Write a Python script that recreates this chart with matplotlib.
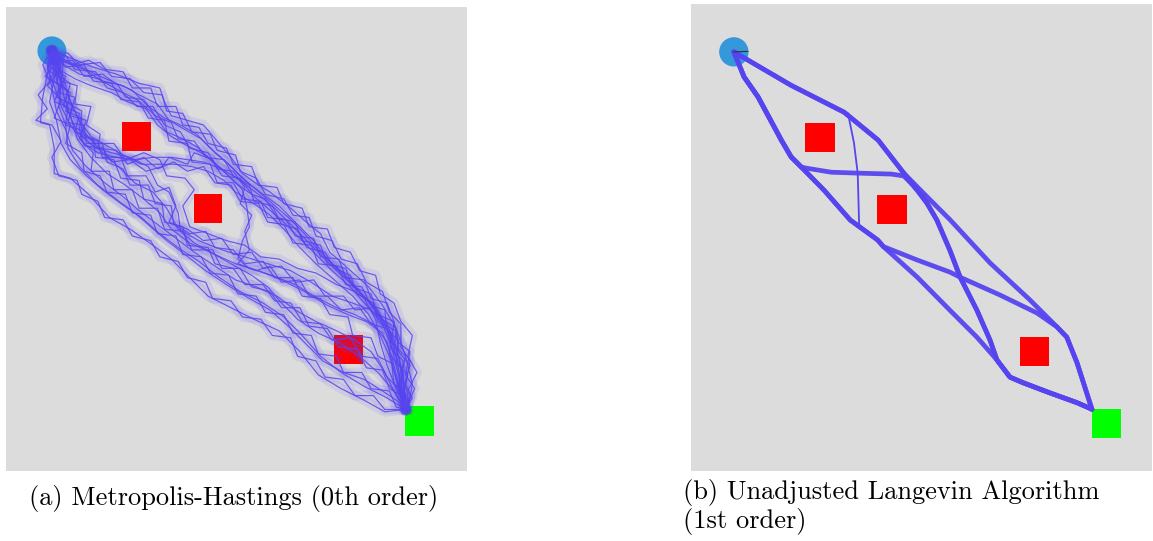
"""
Sampled trajectories from the start disc to the goal square,
comparing a zeroth-order and a first-order sampler.
"""

import matplotlib
matplotlib.use("Agg")
import matplotlib.pyplot as plt
from matplotlib.patches import Circle, Rectangle

# Environment (shared by both panels)
START = (1.0, 1.0)
START_RADIUS = 0.3
OBSTACLES = [(2.85, 2.85), (4.4, 4.4), (7.45, 7.45)]
GOAL = (9.0, 9.0)
BOX_SIDE = 0.63

# Metropolis-Hastings chains (x, y), y grows downwards
MH_PATHS = [
    [(1.0, 1.0), (1.4, 1.15), (1.9, 1.35), (2.4, 1.5), (2.9, 1.7), (3.35, 1.8), (3.45, 2.1), (3.6, 2.4),
     (3.95, 2.5), (4.3, 2.6), (4.6, 2.95), (4.9, 3.3), (5.15, 3.65), (5.5, 3.9), (5.75, 4.05), (6.2, 4.4),
     (6.6, 4.75), (6.85, 4.95), (7.05, 5.35), (7.45, 5.7), (7.9, 6.1), (8.2, 6.5), (8.5, 7.0), (8.7, 7.6),
     (8.85, 8.2), (8.75, 8.75)],
    [(1.0, 1.0), (1.3, 1.25), (1.7, 1.4), (2.1, 1.65), (2.55, 1.75), (2.9, 1.95), (3.3, 2.15), (3.55, 2.5),
     (3.9, 2.7), (4.25, 2.9), (4.55, 3.2), (4.9, 3.5), (5.2, 3.8), (5.6, 4.1), (5.95, 4.35), (6.3, 4.7),
     (6.7, 5.1), (7.0, 5.5), (7.4, 5.85), (7.75, 6.25), (8.1, 6.6), (8.35, 7.1), (8.55, 7.6), (8.65, 8.1),
     (8.7, 8.7)],
    [(1.0, 1.0), (1.15, 1.4), (1.5, 1.6), (1.85, 1.75), (2.3, 1.9), (2.65, 2.1), (3.05, 2.25), (3.3, 2.6),
     (3.6, 2.85), (3.95, 3.05), (4.35, 3.25), (4.7, 3.55), (5.0, 3.85), (5.35, 4.1), (5.7, 4.4), (6.05, 4.7),
     (6.4, 5.05), (6.75, 5.4), (7.1, 5.75), (7.5, 6.1), (7.85, 6.5), (8.2, 6.9), (8.4, 7.4), (8.55, 8.0),
     (8.65, 8.7)],
    [(1.0, 1.0), (1.25, 1.3), (1.6, 1.5), (2.0, 1.6), (2.45, 1.85), (2.85, 2.05), (3.2, 2.35), (3.5, 2.75),
     (3.85, 2.9), (4.2, 3.1), (4.5, 3.4), (4.85, 3.7), (5.15, 4.0), (5.25, 4.4), (5.3, 4.8), (5.15, 5.1),
     (5.05, 5.5), (5.3, 5.7), (5.8, 5.85), (6.3, 6.05), (6.8, 6.35), (7.2, 6.55), (7.6, 6.7), (8.0, 6.9),
     (8.3, 7.3), (8.45, 7.9), (8.6, 8.5), (8.7, 8.75)],
    [(1.0, 1.0), (1.2, 1.2), (1.55, 1.3), (1.95, 1.5), (2.4, 1.7), (2.75, 1.85), (3.1, 2.2), (3.45, 2.45),
     (3.8, 2.6), (4.15, 2.8), (4.45, 3.1), (4.8, 3.4), (5.1, 3.7), (5.45, 4.0), (5.8, 4.3), (6.15, 4.6),
     (6.5, 4.95), (6.8, 5.3), (7.15, 5.65), (7.5, 6.0), (7.8, 6.35), (8.05, 6.8), (8.15, 7.3), (8.3, 7.8),
     (8.5, 8.3), (8.7, 8.7)],
    [(1.0, 1.0), (1.05, 1.4), (1.15, 1.8), (1.2, 2.2), (1.4, 2.6), (1.7, 3.0), (2.0, 3.2), (2.4, 3.3),
     (2.8, 3.35), (3.2, 3.3), (3.6, 3.3), (3.95, 3.35), (4.3, 3.4), (4.7, 3.55), (5.1, 3.8), (5.5, 4.1),
     (5.85, 4.4), (6.2, 4.75), (6.55, 5.1), (6.9, 5.45), (7.25, 5.8), (7.65, 6.15), (8.0, 6.55), (8.3, 7.0),
     (8.5, 7.6), (8.6, 8.2), (8.7, 8.7)],
    [(1.0, 1.0), (1.15, 1.3), (1.3, 1.75), (1.4, 2.1), (1.6, 2.5), (1.85, 2.85), (2.2, 3.05), (2.55, 3.25),
     (2.95, 3.45), (3.3, 3.45), (3.7, 3.45), (4.05, 3.5), (4.4, 3.6), (4.75, 3.8), (5.0, 4.05), (5.4, 4.3),
     (5.75, 4.55), (6.05, 4.85), (6.4, 5.25), (6.75, 5.6), (7.15, 5.95), (7.55, 6.3), (7.9, 6.7), (8.15, 7.15),
     (8.35, 7.6), (8.5, 8.1), (8.7, 8.7)],
    [(1.0, 1.0), (0.95, 1.5), (1.1, 1.9), (1.35, 2.3), (1.55, 2.75), (1.95, 3.1), (2.3, 3.2), (2.7, 3.3),
     (3.1, 3.5), (3.3, 3.9), (3.55, 4.05), (3.75, 4.5), (3.8, 4.9), (4.1, 5.15), (4.55, 5.4), (5.0, 5.6),
     (5.5, 5.75), (6.0, 5.95), (6.5, 6.2), (7.0, 6.5), (7.45, 6.7), (7.85, 6.85), (8.2, 7.1), (8.4, 7.6),
     (8.55, 8.2), (8.7, 8.7)],
    [(1.0, 1.0), (0.9, 1.5), (0.8, 2.0), (0.75, 2.55), (0.95, 2.6), (1.05, 3.1), (1.05, 3.65), (1.4, 3.75),
     (1.8, 4.1), (2.25, 4.6), (2.7, 4.85), (3.2, 5.2), (3.6, 5.5), (3.95, 5.85), (4.4, 6.3), (4.9, 6.55),
     (5.4, 6.8), (5.95, 7.05), (6.4, 7.5), (6.8, 8.0), (7.3, 8.3), (7.8, 8.55), (8.25, 8.8), (8.7, 8.75)],
    [(1.0, 1.0), (1.05, 1.6), (0.95, 2.1), (1.1, 2.5), (1.2, 3.0), (1.4, 3.35), (1.75, 3.7), (2.1, 4.0),
     (2.5, 4.3), (2.95, 4.6), (3.35, 4.95), (3.75, 5.25), (4.2, 5.55), (4.65, 5.9), (5.1, 6.2), (5.6, 6.45),
     (6.05, 6.75), (6.45, 7.15), (6.85, 7.6), (7.3, 7.95), (7.8, 8.25), (8.3, 8.5), (8.7, 8.75)],
    [(1.0, 1.0), (1.2, 1.5), (1.25, 1.95), (1.4, 2.4), (1.55, 2.9), (1.85, 3.3), (2.2, 3.65), (2.6, 3.9),
     (3.0, 4.2), (3.35, 4.5), (3.6, 4.85), (4.0, 5.15), (4.45, 5.35), (4.9, 5.6), (5.35, 5.85), (5.7, 6.1),
     (6.0, 6.45), (6.35, 6.8), (6.8, 7.1), (7.25, 7.3), (7.7, 7.6), (8.1, 7.95), (8.45, 8.35), (8.7, 8.75)],
    [(1.0, 1.0), (1.1, 1.45), (1.3, 1.85), (1.5, 2.3), (1.7, 2.75), (2.05, 3.15), (2.45, 3.5), (2.8, 3.85),
     (3.2, 4.05), (3.5, 4.4), (3.75, 4.85), (4.2, 5.1), (4.7, 5.3), (5.2, 5.45), (5.7, 5.6), (6.2, 5.75),
     (6.65, 6.0), (7.1, 6.3), (7.55, 6.45), (7.95, 6.6), (8.3, 6.9), (8.5, 7.4), (8.65, 8.0), (8.7, 8.7)],
    [(1.0, 1.0), (0.9, 1.3), (1.0, 1.8), (1.1, 2.3), (1.3, 2.7), (1.45, 3.15), (1.75, 3.5), (2.15, 3.85),
     (2.55, 4.15), (2.9, 4.45), (3.3, 4.75), (3.7, 5.05), (4.1, 5.35), (4.55, 5.65), (5.0, 5.95), (5.45, 6.1),
     (5.9, 6.3), (6.3, 6.6), (6.75, 6.85), (7.2, 7.05), (7.6, 7.25), (7.95, 7.5), (8.25, 7.95), (8.5, 8.45),
     (8.7, 8.75)],
    [(1.0, 1.0), (1.2, 1.7), (1.15, 2.2), (1.3, 2.6), (1.35, 3.1), (1.6, 3.5), (2.0, 3.9), (2.4, 4.2),
     (2.8, 4.5), (3.15, 4.8), (3.5, 5.1), (3.9, 5.4), (4.35, 5.75), (4.8, 6.05), (5.3, 6.35), (5.75, 6.6),
     (6.15, 6.95), (6.5, 7.3), (6.9, 7.7), (7.35, 7.95), (7.8, 8.1), (8.2, 8.35), (8.5, 8.55), (8.7, 8.75)],
    [(1.0, 1.0), (1.35, 1.05), (1.6, 1.3), (2.05, 1.25), (2.3, 1.55), (2.7, 1.6), (3.0, 1.9), (3.4, 1.95),
     (3.5, 2.3), (3.85, 2.35), (4.05, 2.75), (4.45, 2.8), (4.6, 3.15), (5.0, 3.25), (5.1, 3.6), (5.45, 3.75),
     (5.65, 4.1), (6.05, 4.2), (6.25, 4.55), (6.6, 4.6), (6.75, 5.0), (7.1, 5.1), (7.3, 5.5), (7.65, 5.6),
     (7.85, 6.0), (8.2, 6.2), (8.35, 6.65), (8.6, 6.9), (8.6, 7.4), (8.8, 7.7), (8.7, 8.2), (8.85, 8.5),
     (8.7, 8.75)],
    [(1.0, 1.0), (1.1, 1.25), (1.45, 1.2), (1.7, 1.55), (2.1, 1.5), (2.45, 1.75), (2.6, 2.0), (3.0, 2.05),
     (3.25, 2.4), (3.6, 2.55), (3.75, 2.9), (4.1, 2.95), (4.35, 3.3), (4.75, 3.35), (4.95, 3.7), (5.3, 3.9),
     (5.4, 4.25), (5.8, 4.35), (6.0, 4.75), (6.35, 4.85), (6.55, 5.25), (6.95, 5.35), (7.15, 5.7), (7.5, 5.85),
     (7.65, 6.25), (8.0, 6.45), (8.1, 6.85), (8.4, 7.1), (8.35, 7.55), (8.6, 7.85), (8.55, 8.3), (8.75, 8.75)],
    [(1.0, 1.0), (1.05, 1.3), (0.85, 1.55), (1.2, 1.75), (1.05, 2.1), (1.35, 2.2), (1.3, 2.6), (1.6, 2.7),
     (1.7, 3.05), (2.1, 3.1), (2.3, 3.4), (2.7, 3.35), (3.05, 3.6), (3.4, 3.5), (3.55, 3.3), (3.95, 3.45),
     (4.1, 3.2), (4.5, 3.35), (4.7, 3.7), (5.1, 3.75), (5.35, 4.1), (5.65, 4.2), (5.9, 4.6), (6.3, 4.7),
     (6.45, 5.1), (6.85, 5.2), (7.0, 5.6), (7.4, 5.7), (7.55, 6.1), (7.95, 6.25), (8.1, 6.7), (8.45, 6.85),
     (8.4, 7.3), (8.7, 7.6), (8.6, 8.1), (8.8, 8.45), (8.7, 8.75)],
    [(1.0, 1.0), (0.8, 1.3), (0.95, 1.65), (0.7, 1.95), (0.9, 2.25), (0.65, 2.5), (1.0, 2.6), (1.2, 2.95),
     (1.0, 3.3), (1.15, 3.7), (1.55, 3.8), (1.65, 4.1), (2.0, 4.25), (2.15, 4.6), (2.55, 4.65), (2.75, 5.0),
     (3.15, 5.1), (3.35, 5.45), (3.75, 5.55), (3.95, 5.9), (4.35, 6.0), (4.5, 6.35), (4.9, 6.4), (5.15, 6.75),
     (5.55, 6.8), (5.8, 7.15), (6.2, 7.2), (6.35, 7.6), (6.75, 7.7), (6.95, 8.05), (7.35, 8.1), (7.6, 8.45),
     (8.0, 8.45), (8.25, 8.75), (8.7, 8.75)],
    [(1.0, 1.0), (1.2, 1.35), (0.95, 1.6), (1.35, 1.85), (1.25, 2.2), (1.6, 2.35), (1.5, 2.75), (1.9, 2.9),
     (1.95, 3.3), (2.35, 3.35), (2.5, 3.75), (2.9, 3.8), (3.0, 4.2), (3.4, 4.3), (3.45, 4.7), (3.85, 4.8),
     (3.95, 5.2), (4.4, 5.25), (4.55, 5.6), (4.95, 5.7), (5.2, 6.05), (5.6, 6.05), (5.85, 6.4), (6.2, 6.45),
     (6.45, 6.85), (6.85, 6.9), (7.1, 7.25), (7.5, 7.2), (7.75, 7.6), (8.1, 7.65), (8.3, 8.05), (8.55, 8.3),
     (8.7, 8.75)],
    [(1.0, 1.0), (1.3, 1.1), (1.5, 1.4), (1.95, 1.45), (2.2, 1.8), (2.55, 1.9), (2.85, 2.2), (3.2, 2.2),
     (3.45, 2.6), (3.8, 2.75), (4.0, 3.1), (4.4, 3.2), (4.6, 3.55), (4.95, 3.6), (5.2, 3.95), (5.1, 4.3),
     (5.35, 4.55), (5.2, 4.9), (5.3, 5.3), (5.05, 5.6), (5.45, 5.75), (5.75, 5.65), (6.0, 6.0), (6.4, 5.95),
     (6.6, 6.3), (7.0, 6.3), (7.3, 6.6), (7.7, 6.55), (7.95, 6.9), (8.3, 7.0), (8.4, 7.45), (8.65, 7.7),
     (8.6, 8.2), (8.7, 8.75)],
    [(1.0, 1.0), (1.25, 1.25), (1.2, 1.65), (1.55, 1.75), (1.5, 2.15), (1.85, 2.2), (1.75, 2.6), (2.05, 2.8),
     (2.0, 3.1), (2.4, 3.15), (2.65, 3.45), (3.0, 3.3), (3.3, 3.55), (3.65, 3.4), (3.95, 3.6), (4.3, 3.5),
     (4.55, 3.85), (4.9, 3.9), (5.1, 4.25), (5.5, 4.3), (5.7, 4.7), (6.05, 4.75), (6.25, 5.15), (6.65, 5.2),
     (6.8, 5.6), (7.2, 5.65), (7.4, 6.05), (7.75, 6.1), (7.95, 6.5), (8.25, 6.6), (8.3, 7.05), (8.55, 7.25),
     (8.5, 7.75), (8.75, 8.0), (8.65, 8.45), (8.7, 8.75)],
    [(1.0, 1.0), (0.9, 1.4), (1.2, 1.6), (1.1, 2.0), (1.45, 2.15), (1.35, 2.55), (1.7, 2.6), (1.75, 3.0),
     (2.1, 3.0), (2.2, 3.4), (2.55, 3.55), (2.7, 3.9), (3.1, 3.9), (3.25, 4.3), (3.6, 4.35), (3.65, 4.75),
     (4.0, 4.95), (4.35, 4.9), (4.55, 5.25), (4.95, 5.3), (5.2, 5.6), (5.6, 5.55), (5.85, 5.9), (6.25, 5.9),
     (6.45, 6.3), (6.85, 6.35), (7.05, 6.7), (7.45, 6.75), (7.55, 7.15), (7.95, 7.2), (8.1, 7.6), (8.4, 7.75),
     (8.45, 8.2), (8.7, 8.4), (8.7, 8.75)],
    [(1.0, 1.0), (1.15, 1.45), (0.9, 1.75), (1.2, 2.05), (1.05, 2.45), (1.4, 2.6), (1.3, 3.0), (1.65, 3.2),
     (1.7, 3.6), (2.05, 3.7), (2.2, 4.05), (2.6, 4.1), (2.75, 4.5), (3.15, 4.55), (3.3, 4.95), (3.7, 5.0),
     (3.85, 5.4), (4.25, 5.45), (4.45, 5.8), (4.85, 5.85), (5.05, 6.25), (5.45, 6.3), (5.65, 6.65), (6.05, 6.7),
     (6.25, 7.1), (6.65, 7.15), (6.8, 7.55), (7.2, 7.6), (7.35, 7.95), (7.75, 7.95), (7.95, 8.3), (8.35, 8.35),
     (8.5, 8.7), (8.7, 8.75)],
    [(1.0, 1.0), (1.3, 1.35), (1.7, 1.3), (1.9, 1.65), (2.3, 1.7), (2.5, 2.05), (2.9, 2.1), (3.1, 2.45),
     (3.45, 2.5), (3.55, 2.95), (3.95, 3.0), (4.05, 3.4), (4.45, 3.45), (4.6, 3.85), (4.95, 3.85), (5.15, 4.2),
     (5.55, 4.25), (5.7, 4.6), (6.1, 4.65), (6.3, 5.0), (6.7, 5.05), (6.85, 5.45), (7.25, 5.5), (7.4, 5.9),
     (7.8, 5.95), (7.95, 6.35), (8.3, 6.45), (8.45, 6.85), (8.55, 7.3), (8.8, 7.5), (8.7, 8.0), (8.9, 8.3),
     (8.7, 8.75)],
    [(1.0, 1.0), (1.1, 1.5), (1.4, 1.7), (1.3, 2.1), (1.65, 2.3), (1.6, 2.7), (1.95, 3.0), (2.35, 3.0),
     (2.6, 3.35), (3.0, 3.2), (3.35, 3.35), (3.5, 3.7), (3.9, 3.75), (4.1, 4.0), (3.85, 4.35), (4.0, 4.8),
     (4.4, 4.95), (4.8, 5.1), (5.2, 5.2), (5.55, 5.45), (5.95, 5.5), (6.35, 5.7), (6.75, 5.8), (7.2, 6.05),
     (7.6, 6.2), (7.95, 6.45), (8.2, 6.8), (8.5, 7.0), (8.45, 7.5), (8.65, 7.95), (8.6, 8.4), (8.7, 8.75)],
    [(1.0, 1.0), (0.95, 1.35), (1.3, 1.55), (1.15, 1.9), (1.5, 2.0), (1.4, 2.4), (1.75, 2.5), (1.6, 2.9),
     (1.9, 3.2), (1.85, 3.6), (2.25, 3.6), (2.35, 4.0), (2.75, 4.0), (2.9, 4.4), (3.3, 4.4), (3.45, 4.85),
     (3.85, 4.9), (4.05, 5.3), (4.5, 5.3), (4.7, 5.7), (5.1, 5.7), (5.35, 6.1), (5.75, 6.2), (6.0, 6.55),
     (6.4, 6.55), (6.6, 6.95), (7.0, 7.0), (7.25, 7.4), (7.65, 7.45), (7.85, 7.85), (8.2, 7.9), (8.35, 8.3),
     (8.7, 8.5), (8.7, 8.75)],
    [(1.0, 1.0), (1.45, 1.3), (1.8, 1.2), (2.15, 1.4), (2.55, 1.45), (2.75, 1.8), (3.15, 1.8), (3.3, 2.2),
     (3.7, 2.2), (3.85, 2.6), (4.2, 2.65), (4.4, 3.0), (4.8, 3.1), (4.95, 3.45), (5.35, 3.5), (5.5, 3.9),
     (5.9, 3.95), (6.05, 4.3), (6.45, 4.4), (6.6, 4.8), (7.0, 4.85), (7.15, 5.25), (7.5, 5.35), (7.7, 5.75),
     (8.05, 5.85), (8.15, 6.25), (8.45, 6.45), (8.6, 6.85), (8.85, 7.15), (8.75, 7.6), (8.95, 7.95),
     (8.75, 8.35), (8.75, 8.75)],
    [(1.0, 1.0), (1.2, 1.3), (1.1, 1.7), (1.4, 1.9), (1.3, 2.3), (1.65, 2.45), (1.65, 2.85), (2.0, 2.95),
     (2.1, 3.3), (2.5, 3.3), (2.65, 3.7), (3.05, 3.7), (3.25, 4.05), (3.55, 3.95), (3.7, 4.35), (3.55, 4.7),
     (3.95, 4.85), (4.3, 5.1), (4.7, 5.05), (4.95, 5.4), (5.35, 5.35), (5.6, 5.7), (6.0, 5.65), (6.3, 6.0),
     (6.7, 5.95), (6.95, 6.3), (7.35, 6.3), (7.6, 6.6), (8.0, 6.55), (8.2, 6.9), (8.5, 7.05), (8.55, 7.5),
     (8.8, 7.8), (8.65, 8.3), (8.7, 8.75)],
]

# Unadjusted Langevin bundles (x, y)
ULA_PATHS = [
    [(1.0, 1.0), (2.23, 1.72), (3.37, 2.30), (4.10, 2.90), (4.65, 3.61), (5.15, 4.12), (5.64, 4.61),
     (6.50, 5.54), (7.36, 6.34), (7.94, 6.92), (8.15, 7.14), (8.37, 7.69), (8.69, 8.69)],
    [(1.0, 1.0), (2.23, 1.72), (3.37, 2.30), (4.10, 2.90), (4.65, 3.61), (5.15, 4.26), (5.36, 4.62),
     (5.64, 5.27), (5.86, 5.85), (6.22, 6.56), (6.50, 7.20), (6.65, 7.63), (6.93, 8.00), (7.21, 8.12),
     (7.79, 8.34), (8.37, 8.55), (8.69, 8.69)],
    [(1.0, 1.0), (1.22, 1.54), (1.52, 1.97), (2.02, 2.90), (2.23, 3.26), (2.45, 3.48), (2.60, 3.51),
     (3.09, 3.59), (3.67, 3.61), (4.38, 3.63), (4.65, 3.67), (4.95, 3.98), (5.15, 4.26), (5.36, 4.62),
     (5.64, 5.27), (5.86, 5.85), (6.22, 6.56), (6.50, 7.20), (6.65, 7.63), (6.93, 8.00), (7.21, 8.12),
     (7.79, 8.34), (8.37, 8.55), (8.69, 8.69)],
    [(1.0, 1.0), (1.22, 1.54), (1.52, 1.97), (2.02, 2.90), (2.23, 3.26), (2.45, 3.48), (2.94, 3.98),
     (3.50, 4.62), (4.09, 5.05), (4.21, 5.19), (4.94, 5.48), (5.64, 5.74), (5.86, 5.85), (6.71, 6.23),
     (7.51, 6.62), (7.94, 6.92), (8.15, 7.14), (8.37, 7.69), (8.69, 8.69)],
    [(1.0, 1.0), (1.22, 1.54), (1.52, 1.97), (2.02, 2.90), (2.23, 3.26), (2.45, 3.48), (2.94, 3.98),
     (3.50, 4.62), (4.09, 5.05), (4.21, 5.19), (4.94, 5.85), (5.64, 6.56), (6.22, 7.14), (6.65, 7.63),
     (6.93, 8.00), (7.21, 8.12), (7.79, 8.34), (8.37, 8.55), (8.69, 8.69)],
]
# single chain that cuts straight down beside the first obstacle
ULA_THIN_PATH = [(3.37, 2.30), (3.45, 2.32), (3.58, 2.96), (3.66, 3.61), (3.69, 4.69)]
# chain that barely left the start
ULA_STUCK_PATH = [(1.0, 1.0), (1.30, 0.99)]

CAPTION_A = "(a) Metropolis-Hastings (0th order)"
CAPTION_B = ["(b) Unadjusted Langevin Algorithm", "(1st order)"]

BG_COLOR = "#dcdcdc"
PATH_COLOR = "#5644f0"


def draw_environment(ax, xlim, ylim):
    """Grey arena with the start disc, the obstacles and the goal."""
    ax.set_facecolor(BG_COLOR)
    ax.set_xlim(*xlim)
    ax.set_ylim(*ylim)
    ax.set_xticks([])
    ax.set_yticks([])
    for spine in ax.spines.values():
        spine.set_visible(False)

    ax.add_patch(Circle(START, START_RADIUS, color="#3498db", zorder=1))
    half = BOX_SIDE / 2
    for cx, cy in OBSTACLES:
        ax.add_patch(Rectangle((cx - half, cy - half), BOX_SIDE, BOX_SIDE,
                               facecolor="#ff0000", edgecolor="none", zorder=1))
    ax.add_patch(Rectangle((GOAL[0] - half, GOAL[1] - half), BOX_SIDE, BOX_SIDE,
                           facecolor="#00ff00", edgecolor="none", zorder=1))


def plot_xy(ax, path, **kwargs):
    xs = [p[0] for p in path]
    ys = [p[1] for p in path]
    ax.plot(xs, ys, **kwargs)


fig = plt.figure(figsize=(11.53, 5.41), dpi=100)

# Left panel: noisy random-walk chains
ax_mh = fig.add_axes([6 / 1153, 70 / 541, 461 / 1153, 464 / 541])
draw_environment(ax_mh, (0.0, 10.04), (10.08, 0.05))
for path in MH_PATHS:
    plot_xy(ax_mh, path, color=PATH_COLOR, lw=7.0, alpha=0.1,
            solid_joinstyle="round", zorder=2)
for path in MH_PATHS:
    plot_xy(ax_mh, path, color=PATH_COLOR, lw=0.85, alpha=0.85, zorder=3)

# Right panel: gradient-driven chains collapse into a few bundles
ax_ula = fig.add_axes([691 / 1153, 70 / 541, 461 / 1153, 467 / 541])
draw_environment(ax_ula, (0.08, 9.98), (10.02, -0.03))
for path in ULA_PATHS:
    plot_xy(ax_ula, path, color=PATH_COLOR, lw=3.4, alpha=0.95,
            solid_joinstyle="round", solid_capstyle="round", zorder=2)
plot_xy(ax_ula, ULA_THIN_PATH, color=PATH_COLOR, lw=1.3, zorder=2)
plot_xy(ax_ula, ULA_STUCK_PATH, color="#333333", lw=0.8, zorder=3)

# Captions set in Computer Modern
cap_font = dict(family="cmr10", size=19, color="black", va="baseline", ha="left")
fig.text(29 / 1153, 1 - 504.5 / 541, CAPTION_A, **cap_font)
fig.text(683 / 1153, 1 - 498.5 / 541, CAPTION_B[0], **cap_font)
fig.text(683 / 1153, 1 - 528.0 / 541, CAPTION_B[1], **cap_font)

plt.savefig("out.png", dpi=100)
